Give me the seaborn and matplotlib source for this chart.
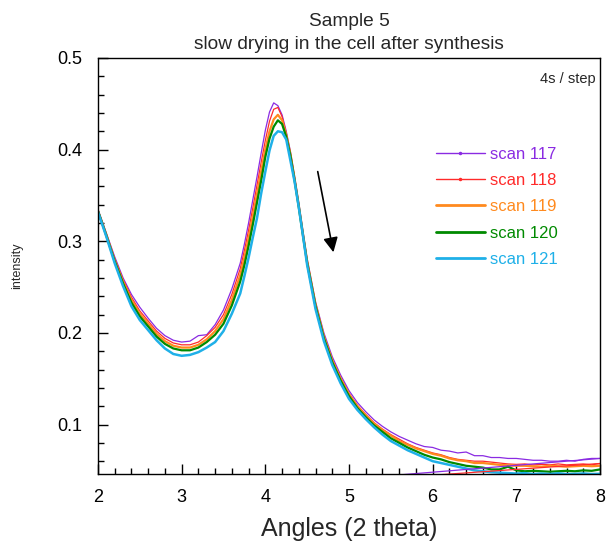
import numpy as np
import pandas as pd
import matplotlib
matplotlib.use("Agg")
import matplotlib.pyplot as plt
from matplotlib.lines import Line2D
from matplotlib.ticker import MultipleLocator
import seaborn as sns

# Diffraction angle grid (2 theta); finer sampling around the peak
angles = ([2.0, 2.1, 2.2, 2.3, 2.4, 2.5, 2.6, 2.7, 2.8, 2.9, 3.0, 3.1, 3.2, 3.3, 3.4, 3.5, 3.6, 3.7]
          + [3.75, 3.8, 3.85, 3.9, 3.95, 4.0, 4.05, 4.1, 4.15, 4.2, 4.25, 4.3, 4.35, 4.4, 4.45, 4.5]
          + [4.6, 4.7, 4.8, 4.9, 5.0, 5.1, 5.2, 5.3, 5.4, 5.5, 5.6, 5.7, 5.8, 5.9, 6.0, 6.1, 6.2,
             6.3, 6.4, 6.5, 6.6, 6.7, 6.8, 6.9, 7.0, 7.1, 7.2, 7.3, 7.4, 7.5, 7.6, 7.7, 7.8, 7.9, 8.0])

scan_117 = [0.335, 0.309, 0.283, 0.260, 0.242, 0.228, 0.216, 0.205, 0.197, 0.192, 0.190, 0.191, 0.197, 0.198,
            0.209, 0.225, 0.248, 0.276,
            0.297, 0.320, 0.345, 0.370, 0.396, 0.421, 0.441, 0.451, 0.448, 0.438, 0.420, 0.398, 0.371, 0.342,
            0.311, 0.281,
            0.234, 0.200, 0.174, 0.154, 0.137, 0.124, 0.114, 0.105, 0.098, 0.092, 0.087, 0.083, 0.079, 0.076,
            0.075, 0.072, 0.071, 0.069, 0.070, 0.066, 0.066, 0.064, 0.064, 0.063, 0.063, 0.062, 0.061, 0.061,
            0.060, 0.060, 0.061, 0.060, 0.062, 0.063, 0.063]
scan_118 = [0.334, 0.308, 0.281, 0.258, 0.239, 0.224, 0.213, 0.202, 0.194, 0.189, 0.187, 0.187, 0.190, 0.197,
            0.206, 0.220, 0.242, 0.270,
            0.290, 0.312, 0.336, 0.361, 0.386, 0.410, 0.431, 0.444, 0.446, 0.436, 0.418, 0.396, 0.369, 0.340,
            0.309, 0.279,
            0.232, 0.197, 0.171, 0.151, 0.134, 0.121, 0.111, 0.102, 0.095, 0.089, 0.084, 0.079, 0.075, 0.072,
            0.069, 0.067, 0.064, 0.062, 0.061, 0.060, 0.060, 0.059, 0.058, 0.057, 0.0565, 0.057, 0.056, 0.0565,
            0.056, 0.057, 0.056, 0.0565, 0.057, 0.056, 0.0575]
scan_119 = [0.333, 0.307, 0.279, 0.256, 0.236, 0.221, 0.210, 0.199, 0.191, 0.186, 0.184, 0.184, 0.187, 0.193,
            0.202, 0.215, 0.236, 0.263,
            0.282, 0.303, 0.327, 0.351, 0.376, 0.400, 0.420, 0.433, 0.438, 0.432, 0.416, 0.395, 0.368, 0.339,
            0.308, 0.278,
            0.231, 0.196, 0.170, 0.150, 0.133, 0.120, 0.110, 0.101, 0.094, 0.088, 0.082, 0.078, 0.074, 0.071,
            0.068, 0.066, 0.063, 0.061, 0.060, 0.058, 0.058, 0.057, 0.056, 0.0555, 0.055, 0.055, 0.0545, 0.054,
            0.055, 0.0545, 0.054, 0.0545, 0.055, 0.0545, 0.055]
scan_120 = [0.333, 0.306, 0.278, 0.254, 0.233, 0.218, 0.207, 0.196, 0.188, 0.183, 0.181, 0.181, 0.184, 0.190,
            0.198, 0.210, 0.230, 0.256,
            0.274, 0.295, 0.318, 0.342, 0.366, 0.392, 0.412, 0.425, 0.432, 0.428, 0.414, 0.393, 0.366, 0.337,
            0.306, 0.276,
            0.229, 0.194, 0.168, 0.148, 0.131, 0.118, 0.108, 0.099, 0.092, 0.085, 0.080, 0.075, 0.071, 0.067,
            0.064, 0.062, 0.059, 0.057, 0.055, 0.054, 0.053, 0.051, 0.051, 0.054, 0.050, 0.049, 0.0495, 0.049,
            0.0485, 0.049, 0.0495, 0.049, 0.050, 0.0495, 0.051]
scan_121 = [0.332, 0.305, 0.276, 0.251, 0.229, 0.214, 0.203, 0.192, 0.183, 0.177, 0.175, 0.176, 0.179, 0.184,
            0.190, 0.202, 0.221, 0.243,
            0.262, 0.282, 0.304, 0.325, 0.352, 0.376, 0.399, 0.415, 0.420, 0.419, 0.411, 0.388, 0.365, 0.337,
            0.306, 0.274,
            0.226, 0.191, 0.165, 0.145, 0.128, 0.116, 0.106, 0.097, 0.089, 0.082, 0.077, 0.072, 0.068, 0.064,
            0.060, 0.058, 0.056, 0.054, 0.052, 0.050, 0.049, 0.048, 0.0475, 0.047, 0.0465, 0.047, 0.046, 0.0465,
            0.046, 0.0468, 0.046, 0.0462, 0.0466, 0.046, 0.0462]

scan_names = ["scan 117", "scan 118", "scan 119", "scan 120", "scan 121"]
scan_values = [scan_117, scan_118, scan_119, scan_120, scan_121]
scan_colors = ["#8A2BE2", "#FF2A2A", "#FF8A1E", "#008A00", "#1FB0E8"]
scan_widths = [0.9, 0.9, 1.6, 1.6, 1.8]

# Scans 117 and 118 end with a return stroke back to the low-angle start
return_start = {"scan 117": 0.018, "scan 118": 0.019}

df = pd.concat(
    [pd.DataFrame({"angle": angles, "intensity": vals, "scan": name})
     for name, vals in zip(scan_names, scan_values)],
    ignore_index=True,
)

sns.set_style("white")
plt.rcParams["font.family"] = ["Liberation Sans", "DejaVu Sans"]

fig = plt.figure(figsize=(6.07, 5.48), dpi=100)
ax = fig.add_axes([0.1614, 0.135, 0.8271, 0.7592])

palette = dict(zip(scan_names, scan_colors))
sns.lineplot(data=df, x="angle", y="intensity", hue="scan", palette=palette,
             legend=False, ax=ax, sort=True, estimator=None)
for line, lw in zip(ax.get_lines(), scan_widths):
    line.set_linewidth(lw)

for name, y0 in return_start.items():
    vals = scan_values[scan_names.index(name)]
    ax.plot([angles[-1], angles[0]], [vals[-1], y0], color=palette[name], lw=0.9)

ax.set_xlim(2, 8)
ax.set_ylim(0.046, 0.5)
ax.xaxis.set_major_locator(MultipleLocator(1))
ax.xaxis.set_minor_locator(MultipleLocator(0.2))
ax.yaxis.set_major_locator(MultipleLocator(0.1))
ax.yaxis.set_minor_locator(MultipleLocator(0.02))
ax.tick_params(axis="both", which="both", direction="in", bottom=True, left=True,
               top=False, right=False, colors="black", width=1)
ax.tick_params(axis="x", which="major", length=7, pad=11, labelsize=13)
ax.tick_params(axis="x", which="minor", length=4)
ax.tick_params(axis="y", which="major", length=7, pad=11, labelsize=13)
ax.tick_params(axis="y", which="minor", length=4)
ax.set_yticks([0.1, 0.2, 0.3, 0.4, 0.5])
ax.set_yticklabels(["0.1", "0.2", "0.3", "0.4", "0.5"])

for side in ["left", "right", "top", "bottom"]:
    ax.spines[side].set_visible(True)
    ax.spines[side].set_color("black")
    ax.spines[side].set_linewidth(1.0)

ax.set_xlabel("Angles (2 theta)", fontsize=18, labelpad=8)
ax.set_ylabel("intensity", fontsize=9, labelpad=25)
ax.set_title("Sample 5\nslow drying in the cell after synthesis", fontsize=13.8,
             linespacing=1.45, pad=6.8)

ax.text(0.992, 0.95, "4s / step", transform=ax.transAxes, ha="right", va="center", fontsize=10.5)

ax.annotate("", xy=(4.82, 0.285), xytext=(4.62, 0.379),
            arrowprops=dict(arrowstyle="-|>", color="black", lw=1.2, mutation_scale=22))

handles = []
for name, col in zip(scan_names, scan_colors):
    thin = name in ("scan 117", "scan 118")
    handles.append(Line2D([0], [0], color=col, lw=1.0 if thin else 2.0,
                          marker="." if thin else None, markersize=3))
leg = ax.legend(handles, scan_names, loc="upper left", bbox_to_anchor=(0.644, 0.823),
                frameon=False, fontsize=12, handlelength=2.9, handletextpad=0.3,
                labelspacing=0.68)
for txt, col in zip(leg.get_texts(), scan_colors):
    txt.set_color(col)

fig.savefig("out.png", dpi=100)
